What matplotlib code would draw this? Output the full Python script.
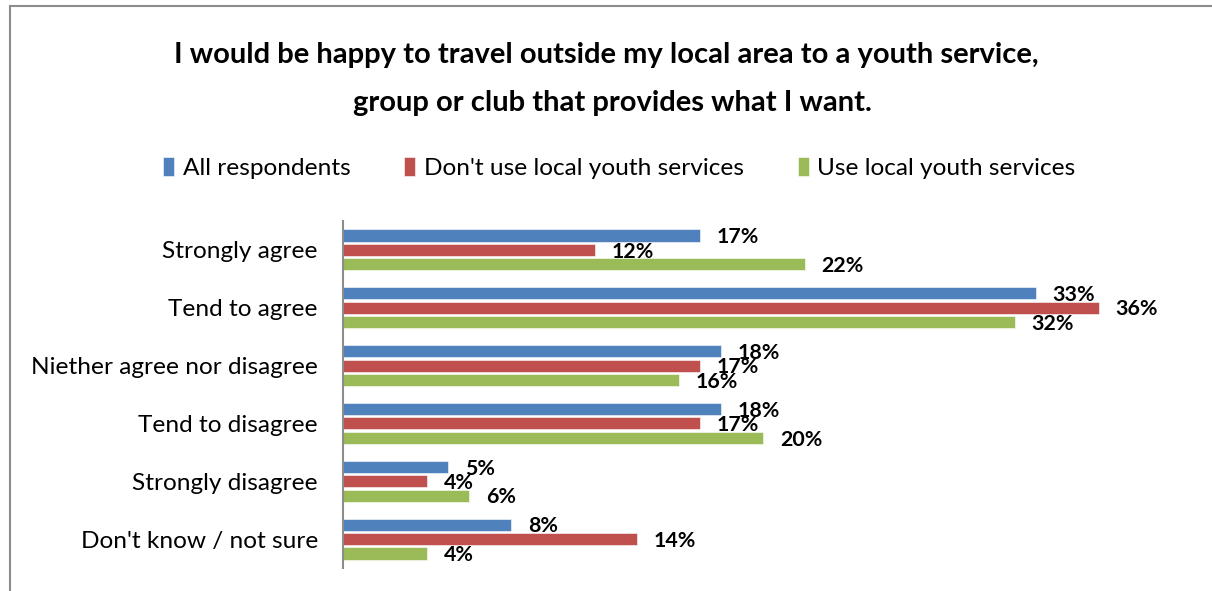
import numpy as np
import matplotlib
matplotlib.use('Agg')
import matplotlib.pyplot as plt
from matplotlib.lines import Line2D

# Survey responses (% of respondents)
categories = ['Strongly agree', 'Tend to agree', 'Niether agree nor disagree',
              'Tend to disagree', 'Strongly disagree', "Don't know / not sure"]
series_names = ['All respondents', "Don't use local youth services", 'Use local youth services']
all_resp = [17, 33, 18, 18, 5, 8]
dont_use = [12, 36, 17, 17, 4, 14]
use_local = [22, 32, 16, 20, 6, 4]
colors = ['#4F81BD', '#C0504D', '#9BBB59']

plt.rcParams['font.family'] = ['Lato', 'DejaVu Sans']

fig = plt.figure(figsize=(12.12, 5.91), dpi=100)
ax = fig.add_axes([0.283, 0.039, 0.693, 0.587])

y = np.arange(len(categories))
bar_h = 0.21
step = 0.25
for i, (vals, col) in enumerate(zip([all_resp, dont_use, use_local], colors)):
    pos = y + (i - 1) * step
    ax.barh(pos, vals, height=bar_h, color=col, edgecolor='white', linewidth=0.4,
            label=series_names[i])
    for p, v in zip(pos, vals):
        ax.text(v + 0.8, p + 0.03, f'{v}%', va='center', ha='left',
                fontsize=15.4, fontweight='bold', color='black')

ax.set_xlim(0, 40)
ax.set_ylim(len(categories) - 0.5, -0.5)
ax.set_yticks(y)
ax.set_yticklabels(categories, fontsize=17.6)
ax.tick_params(axis='y', length=0, pad=18)
ax.set_xticks([])
for s in ['top', 'right', 'bottom']:
    ax.spines[s].set_visible(False)
ax.spines['left'].set_color('#8C8C8C')
ax.spines['left'].set_linewidth(1.5)

# Title and legend above the plot area
fig.text(0.5, 0.907, 'I would be happy to travel outside my local area to a youth service,',
         ha='center', va='center', fontsize=21, fontweight='bold')
fig.text(0.505, 0.826, 'group or club that provides what I want.',
         ha='center', va='center', fontsize=21, fontweight='bold')

handles, labels = ax.get_legend_handles_labels()
fig.legend(handles, labels, loc='center', bbox_to_anchor=(0.511, 0.716), ncol=3,
           frameon=False, fontsize=17.6, handlelength=0.45, handleheight=0.8,
           handletextpad=0.35, columnspacing=2.2)

# Chart frame (top and left edges)
fig.add_artist(Line2D([0.0085, 1.0], [0.99, 0.99], color='#8C8C8C', linewidth=1.5))
fig.add_artist(Line2D([0.0085, 0.0085], [0.0, 0.99], color='#8C8C8C', linewidth=1.5))

fig.savefig('out.png', dpi=100)
